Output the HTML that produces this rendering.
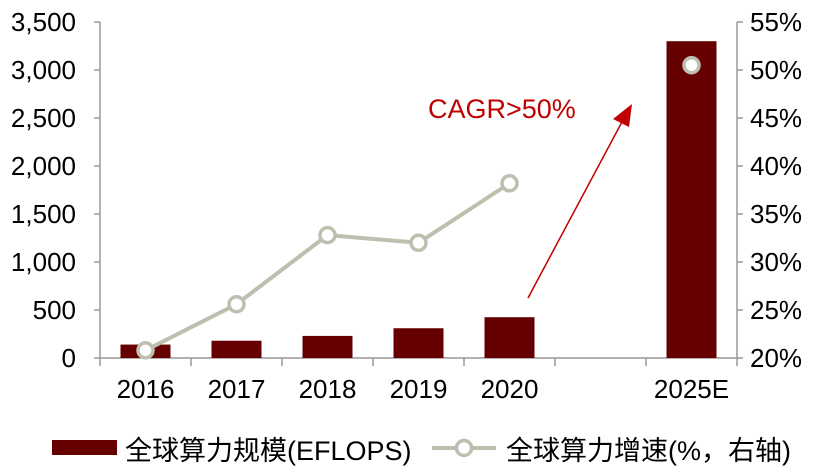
<!DOCTYPE html>
<html><head><meta charset="utf-8"><style>
body{margin:0;background:#fff;}
svg text{font-family:"Liberation Sans","Noto Sans CJK SC",sans-serif;}
</style></head><body>
<svg id="chart" width="819" height="469" xmlns="http://www.w3.org/2000/svg">
<g id="g"></g>
</svg>
<script>
const categories=["2016","2017","2018","2019","2020","","2025E"];
const barValues=[140,180,230,310,425,null,3300];
const growthValues=[20.8,25.6,32.8,32.0,38.2,null,50.5];
const leftTicks=[0,500,1000,1500,2000,2500,3000,3500];
const leftTickLabels=["0","500","1,000","1,500","2,000","2,500","3,000","3,500"];
const rightTicks=[20,25,30,35,40,45,50,55];

const NS="http://www.w3.org/2000/svg";
const g=document.getElementById('g');
const x0=100,x1=737,yB=358,yT=22;
const bw=(x1-x0)/categories.length;
const yL=v=>yB-(v/3500)*(yB-yT);
const yR=v=>yB-((v-20)/35)*(yB-yT);
const xC=i=>x0+bw*(i+0.5);
function el(t,a){const e=document.createElementNS(NS,t);for(const k in a)e.setAttribute(k,a[k]);g.appendChild(e);return e;}
let e=el('line',{x1:x0,y1:yT,x2:x0,y2:yB,stroke:'#999','stroke-width':1.5});

e=el('line',{x1:x1,y1:yT,x2:x1,y2:yB,stroke:'#999','stroke-width':1.5});

e=el('line',{x1:x0,y1:yB,x2:x1,y2:yB,stroke:'#999','stroke-width':1.5});

for(let i=0;i<=categories.length;i++){
  e=el('line',{x1:x0+bw*i,y1:yB,x2:x0+bw*i,y2:yB+8,stroke:'#999','stroke-width':1.5});
  
}
leftTicks.forEach((v,i)=>{
  e=el('line',{x1:x0-6,y1:yL(v),x2:x0,y2:yL(v),stroke:'#999','stroke-width':1.5});
  
  e=el('text',{x:x0-24,y:yL(v)+9,'text-anchor':'end','font-size':26,fill:'#000'});
  e.textContent=leftTickLabels[i];
  
});
rightTicks.forEach(v=>{
  e=el('line',{x1:x1,y1:yR(v),x2:x1+6,y2:yR(v),stroke:'#999','stroke-width':1.5});
  
  e=el('text',{x:x1+13,y:yR(v)+9,'font-size':26,fill:'#000'});
  e.textContent=v+'%';
  
});
categories.forEach((c,i)=>{
  if(!c)return;
  e=el('text',{x:xC(i),y:yB+40,'text-anchor':'middle','font-size':26,fill:'#000'});
  e.textContent=c;
  
});
barValues.forEach((v,i)=>{
  if(v==null)return;
  e=el('rect',{x:xC(i)-25,y:yL(v),width:50,height:yB-yL(v),fill:'#660000'});
  
});
let pts=[];growthValues.forEach((v,i)=>{if(v!=null&&i<5)pts.push(xC(i)+','+yR(v));});
e=el('polyline',{points:pts.join(' '),fill:'none',stroke:'#bfbfb0','stroke-width':4});

growthValues.forEach((v,i)=>{
  if(v==null)return;
  e=el('circle',{cx:xC(i),cy:yR(v),r:7.5,fill:'#fff',stroke:'#bfbfb0','stroke-width':3.5});
  
});
e=el('line',{x1:528,y1:298,x2:623,y2:120,stroke:'#c00000','stroke-width':1.5});

e=el('polygon',{points:'632,104 613,119 629,127',fill:'#c00000'});

e=el('text',{x:428,y:118,'font-size':27,fill:'#c00000'});e.textContent='CAGR>50%';

e=el('rect',{x:52,y:440,width:65,height:15,fill:'#660000'});

e=el('text',{x:125,y:460,'font-size':27,fill:'#000'});e.textContent='全球算力规模(EFLOPS)';

e=el('line',{x1:432,y1:448,x2:496,y2:448,stroke:'#bfbfb0','stroke-width':4});

e=el('circle',{cx:464,cy:448,r:7.5,fill:'#fff',stroke:'#bfbfb0','stroke-width':3.5});

e=el('text',{x:506,y:460,'font-size':27,fill:'#000'});e.textContent='全球算力增速(%，右轴)';

</script>
</body></html>
